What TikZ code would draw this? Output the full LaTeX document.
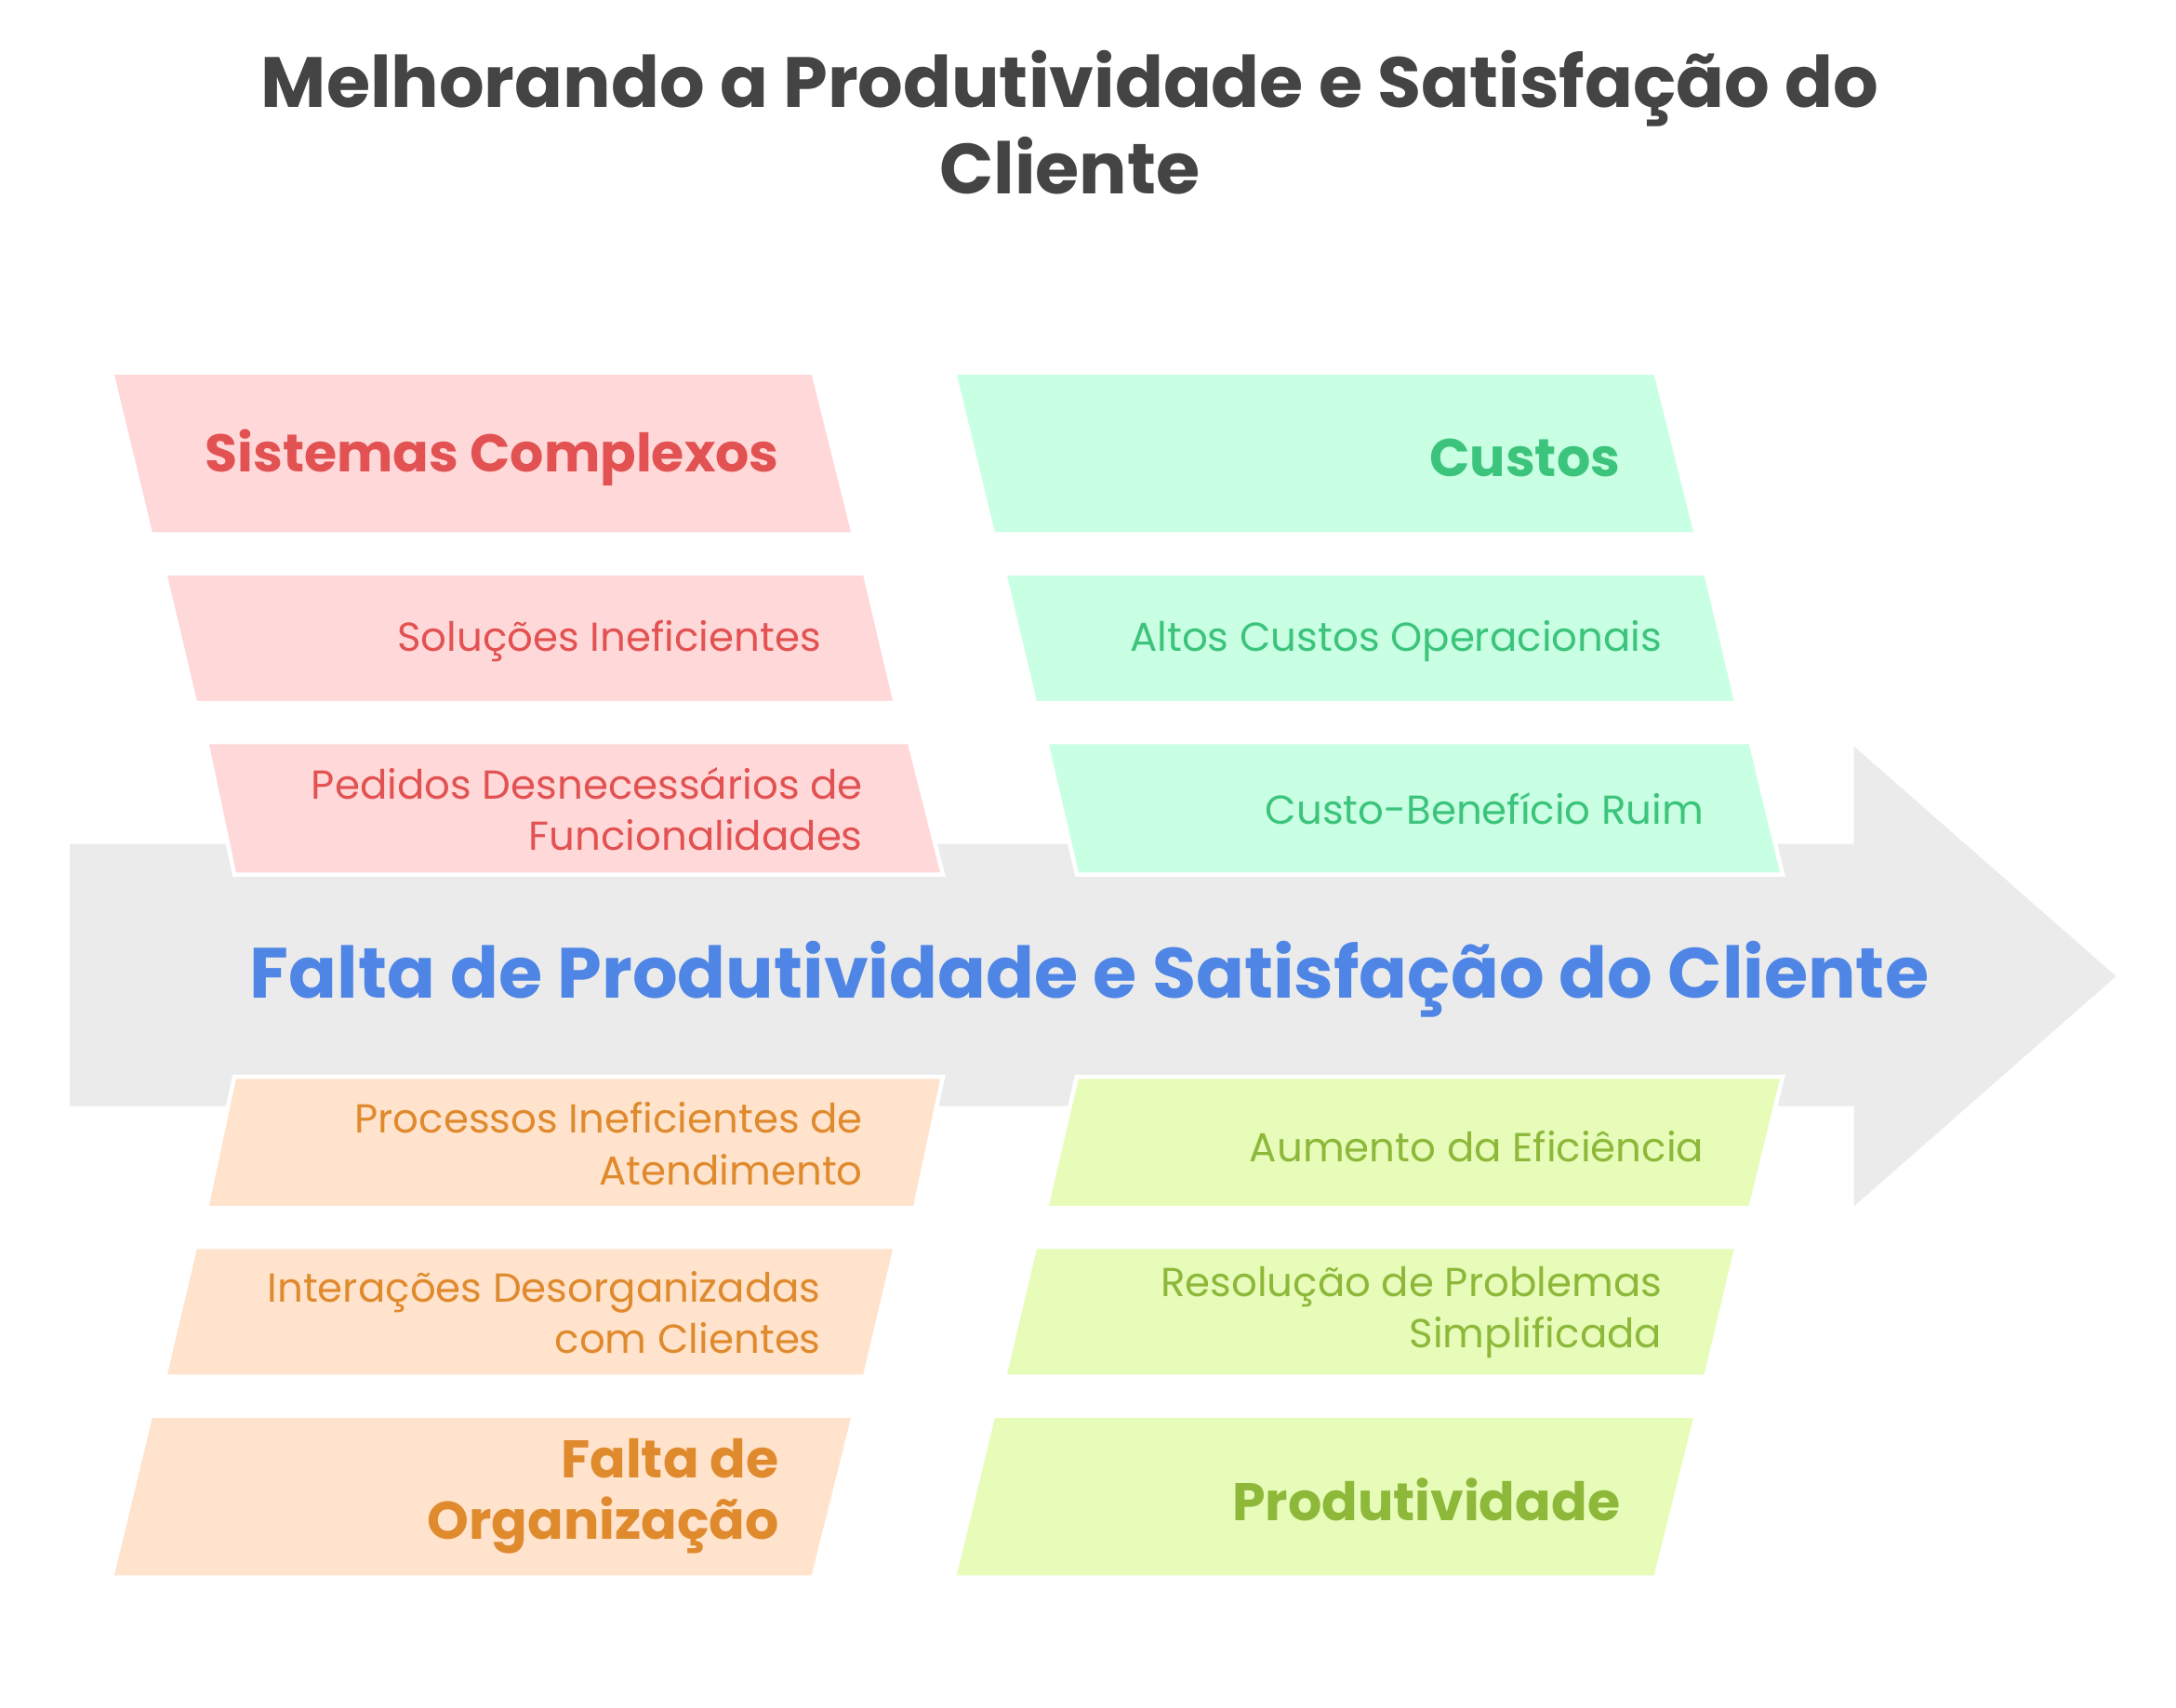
\documentclass[tikz,border=0pt]{standalone}
\usepackage{fontspec}
\setmainfont{Poppins}
\definecolor{redtxt}{HTML}{E35252}
\definecolor{redfill}{HTML}{FFD9D9}
\definecolor{greentxt}{HTML}{3CC47C}
\definecolor{greenfill}{HTML}{C9FFE3}
\definecolor{orangetxt}{HTML}{E08A2E}
\definecolor{orangefill}{HTML}{FFE3CC}
\definecolor{limetxt}{HTML}{8DB83A}
\definecolor{limefill}{HTML}{E6FCB8}
\definecolor{arrowgray}{HTML}{EBEBEB}
\definecolor{titlegray}{HTML}{444444}
\definecolor{maintxt}{HTML}{4F86E6}
\begin{document}
\begin{tikzpicture}[x=1pt,y=-1pt,
  slbox/.style={draw=white,line width=3pt,line join=miter},
  headtxt/.style={anchor=east,align=right,font=\bfseries\fontsize{38}{44}\selectfont},
  itemtxt/.style={anchor=east,align=right,font=\fontsize{29}{37}\selectfont}]
\useasboundingbox (0,0) rectangle (1560,1224);
% spine
\fill[arrowgray] (50,605) -- (1329,605) -- (1329,535) -- (1517,700) -- (1329,865) -- (1329,793) -- (50,793) -- cycle;
\node[font=\bfseries\fontsize{51}{58}\selectfont,text=maintxt] (effect) at (781,702) {Falta de Produtividade e Satisfação do Cliente};
\node[font=\bfseries\fontsize{51}{62}\selectfont,text=titlegray,align=center] (title) at (767,88) {Melhorando a Produtividade e Satisfação do\\Cliente};
% upper left
\fill[redfill,slbox] (80,267) -- (583,267) -- (612,383) -- (108,383) -- cycle;
\fill[redfill,slbox] (118,411) -- (620,411) -- (642,504) -- (140,504) -- cycle;
\fill[redfill,slbox] (148,532) -- (652,532) -- (676,627) -- (168,627) -- cycle;
\node[headtxt,text=redtxt] (sistemas) at (562,328) {Sistemas Complexos};
\node[itemtxt,text=redtxt] (solucoes) at (592,460) {Soluções Ineficientes};
\node[itemtxt,text=redtxt] (pedidos) at (622,580) {Pedidos Desnecessários de\\Funcionalidades};
% upper right
\fill[greenfill,slbox] (684,267) -- (1187,267) -- (1216,383) -- (712,383) -- cycle;
\fill[greenfill,slbox] (720,411) -- (1223,411) -- (1245,504) -- (742,504) -- cycle;
\fill[greenfill,slbox] (750,532) -- (1255,532) -- (1278,627) -- (772,627) -- cycle;
\node[headtxt,text=greentxt] (custos) at (1165,328) {Custos};
\node[itemtxt,text=greentxt] (altos) at (1195,460) {Altos Custos Operacionais};
\node[itemtxt,text=greentxt] (beneficio) at (1225,580) {Custo-Benefício Ruim};
% lower left
\fill[orangefill,slbox] (168,772) -- (676,772) -- (656,866) -- (148,866) -- cycle;
\fill[orangefill,slbox] (140,894) -- (642,894) -- (620,987) -- (118,987) -- cycle;
\fill[orangefill,slbox] (108,1015) -- (612,1015) -- (583,1131) -- (80,1131) -- cycle;
\node[itemtxt,text=orangetxt] (processos) at (622,820) {Processos Ineficientes de\\Atendimento};
\node[itemtxt,text=orangetxt] (interacoes) at (592,941) {Interações Desorganizadas\\com Clientes};
\node[headtxt,text=orangetxt] (organizacao) at (562,1073) {Falta de\\Organização};
% lower right
\fill[limefill,slbox] (772,772) -- (1278,772) -- (1255,866) -- (750,866) -- cycle;
\fill[limefill,slbox] (742,894) -- (1245,894) -- (1223,987) -- (720,987) -- cycle;
\fill[limefill,slbox] (712,1015) -- (1216,1015) -- (1187,1131) -- (684,1131) -- cycle;
\node[itemtxt,text=limetxt] (aumento) at (1225,822) {Aumento da Eficiência};
\node[itemtxt,text=limetxt] (resolucao) at (1195,941) {Resolução de Problemas\\Simplificada};
\node[headtxt,text=limetxt] (produtividade) at (1165,1075) {Produtividade};
\end{tikzpicture}
\end{document}
